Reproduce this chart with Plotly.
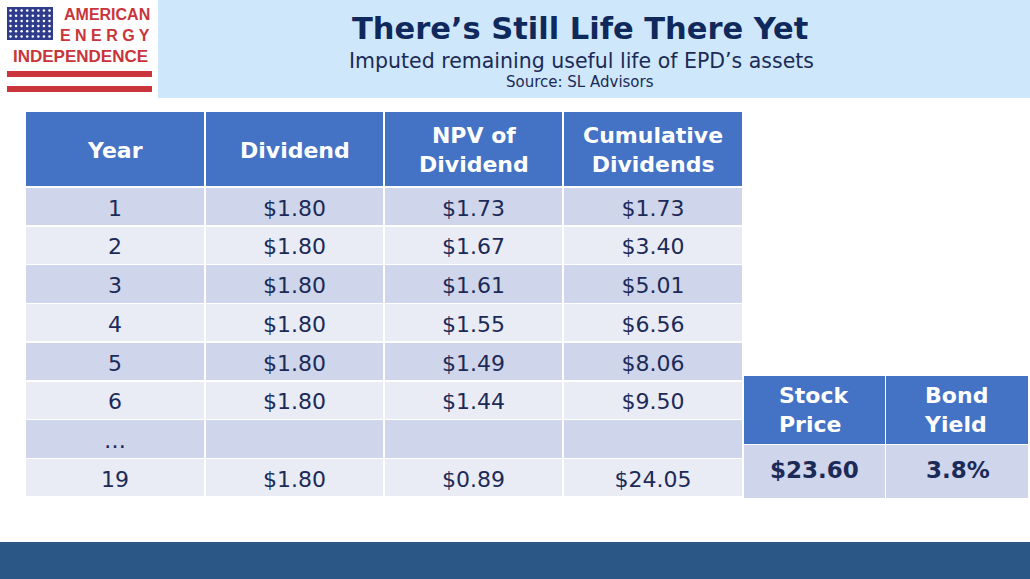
import plotly.graph_objects as go
import numpy as np

W, H = 1030, 579

# ---- data ----
years = ["1", "2", "3", "4", "5", "6", "…", "19"]
dividend = [1.80, 1.80, 1.80, 1.80, 1.80, 1.80, None, 1.80]
npv_dividend = [1.73, 1.67, 1.61, 1.55, 1.49, 1.44, None, 0.89]
cumulative_dividends = [1.73, 3.40, 5.01, 6.56, 8.06, 9.50, None, 24.05]
headers = ["Year", "Dividend", "NPV of<br>Dividend", "Cumulative<br>Dividends"]

side_headers = ["Stock<br>Price", "Bond<br>Yield"]
stock_price = 23.60
bond_yield = 3.8

# ---- styling ----
HEAD = "#4472c4"
DARK_ROW = "#cfd5ea"
LIGHT_ROW = "#e9ebf5"
NAVY = "#1b2a57"
TITLE_NAVY = "#10295c"
BANNER = "#cfe7fa"
RED = "#c9353a"
BAND = "#2b5786"
CLEAR = "rgba(0,0,0,0)"

MAIN_X0, MAIN_X1, MAIN_TOP = 25, 743, 111
MAIN_COLW = [180, 179, 179, 180]
HEAD_H, ROW_H = 76, 38.75
TEXT_SHIFT = 4
SIDE_X0, SIDE_X1, SIDE_TOP = 743, 1030, 375
SIDE_COLW = [143, 144]
SIDE_HEAD_H, SIDE_ROW_H = 68, 54


def money(v):
    return "" if v is None else f"${v:.2f}"


def px(x):
    return x / W


def py(y):
    return 1 - y / H


def col_centers(x0, widths):
    edges = np.concatenate([[x0], x0 + np.cumsum(widths)])
    return (edges[:-1] + edges[1:]) / 2


row_colors = [DARK_ROW if i % 2 == 0 else LIGHT_ROW for i in range(len(years))]
body_values = [years,
               [money(v) for v in dividend],
               [money(v) for v in npv_dividend],
               [money(v) for v in cumulative_dividends]]

fig = go.Figure()

# grid / fills of the main table
fig.add_trace(go.Table(
    domain=dict(x=[px(MAIN_X0), px(MAIN_X1)], y=[py(505), py(MAIN_TOP)]),
    columnwidth=MAIN_COLW,
    header=dict(values=[""] * len(headers), fill_color=HEAD,
                line=dict(color="white", width=1.5), height=HEAD_H),
    cells=dict(values=[[""] * len(years)] * 4, fill_color=[row_colors] * 4,
               line=dict(color="white", width=1.5), height=ROW_H),
))

# text layer of the main table (transparent fills, nudged down to centre text)
fig.add_trace(go.Table(
    domain=dict(x=[px(MAIN_X0), px(MAIN_X1)], y=[py(515), py(MAIN_TOP)]),
    columnwidth=MAIN_COLW,
    header=dict(values=[""] * len(headers), fill_color=CLEAR,
                line=dict(color=CLEAR, width=0), height=HEAD_H + TEXT_SHIFT),
    cells=dict(values=body_values, fill_color=CLEAR, line=dict(color=CLEAR, width=0),
               align="center", height=ROW_H,
               font=dict(family="DejaVu Sans", size=22, color=NAVY)),
))

fig.add_trace(go.Table(
    domain=dict(x=[px(SIDE_X0), px(SIDE_X1)], y=[py(505), py(SIDE_TOP)]),
    columnwidth=SIDE_COLW,
    header=dict(
        values=side_headers,
        fill_color=HEAD,
        line=dict(color="white", width=1.5),
        align="center",
        height=SIDE_HEAD_H,
        font=dict(family="DejaVu Sans", size=22, color="white", weight="bold"),
    ),
    cells=dict(values=[[""], [""]], fill_color=DARK_ROW,
               line=dict(color="white", width=1.5), height=SIDE_ROW_H),
))

shapes = [
    dict(type="rect", xref="paper", yref="paper", x0=px(158), x1=1, y0=py(98), y1=1,
         fillcolor=BANNER, line=dict(width=0), layer="below"),
    dict(type="rect", xref="paper", yref="paper", x0=0, x1=1, y0=0, y1=py(542),
         fillcolor=BAND, line=dict(width=0), layer="below"),
    dict(type="rect", xref="paper", yref="paper", x0=px(7), x1=px(53), y0=py(40), y1=py(7),
         fillcolor="#2f3c8c", line=dict(width=0), layer="below"),
    dict(type="rect", xref="paper", yref="paper", x0=px(7), x1=px(152), y0=py(77), y1=py(71),
         fillcolor=RED, line=dict(width=0)),
    dict(type="rect", xref="paper", yref="paper", x0=px(7), x1=px(152), y0=py(92), y1=py(86),
         fillcolor=RED, line=dict(width=0)),
]

# stars on the flag (decorative)
sx, sy = np.meshgrid(np.linspace(10.5, 49.5, 8), np.linspace(10.5, 36.5, 6))
fig.add_trace(go.Scatter(
    x=sx.ravel(), y=sy.ravel(), mode="markers", xaxis="x", yaxis="y",
    marker=dict(size=2.5, color="white"), hoverinfo="skip", showlegend=False,
))

annotations = [
    dict(text="There’s Still Life There Yet", x=px(580), y=py(28), xref="paper", yref="paper",
         showarrow=False, xanchor="center", yanchor="middle",
         font=dict(family="DejaVu Sans", size=30.5, color=TITLE_NAVY, weight="bold")),
    dict(text="Imputed remaining useful life of EPD’s assets", x=px(581), y=py(61),
         xref="paper", yref="paper", showarrow=False, xanchor="center", yanchor="middle",
         font=dict(family="DejaVu Sans", size=20.5, color=NAVY)),
    dict(text="Source: SL Advisors", x=px(580), y=py(82), xref="paper", yref="paper",
         showarrow=False, xanchor="center", yanchor="middle",
         font=dict(family="DejaVu Sans", size=15, color=NAVY)),
    dict(text="AMERICAN", x=px(152), y=py(15), xref="paper", yref="paper", showarrow=False,
         xanchor="right", yanchor="middle",
         font=dict(family="Liberation Sans", size=16, color=RED, weight="bold")),
    dict(text="E N E R G Y", x=px(152), y=py(35), xref="paper", yref="paper", showarrow=False,
         xanchor="right", yanchor="middle",
         font=dict(family="Liberation Sans", size=16, color=RED, weight="bold")),
    dict(text="INDEPENDENCE", x=px(80), y=py(56), xref="paper", yref="paper", showarrow=False,
         xanchor="center", yanchor="middle",
         font=dict(family="Liberation Sans", size=17, color=RED, weight="bold")),
]

# main table header labels, vertically centred in the header row
for cx, label in zip(col_centers(MAIN_X0, MAIN_COLW), headers):
    annotations.append(dict(
        text=label, x=px(cx), y=py(MAIN_TOP + HEAD_H / 2 + 1), xref="paper", yref="paper",
        showarrow=False, xanchor="center", yanchor="middle",
        font=dict(family="DejaVu Sans", size=22, color="white", weight="bold")))

# side table values, vertically centred in the value row
for cx, val in zip(col_centers(SIDE_X0, SIDE_COLW),
                   [f"${stock_price:.2f}", f"{bond_yield:.1f}%"]):
    annotations.append(dict(
        text=val, x=px(cx), y=py(SIDE_TOP + SIDE_HEAD_H + SIDE_ROW_H / 2),
        xref="paper", yref="paper", showarrow=False, xanchor="center", yanchor="middle",
        font=dict(family="DejaVu Sans", size=23, color=NAVY, weight="bold")))

fig.update_layout(
    width=W, height=H,
    margin=dict(l=0, r=0, t=0, b=0),
    paper_bgcolor="white", plot_bgcolor="rgba(0,0,0,0)",
    shapes=shapes, annotations=annotations, showlegend=False,
    xaxis=dict(range=[0, W], visible=False, domain=[0, 1], fixedrange=True),
    yaxis=dict(range=[H, 0], visible=False, domain=[0, 1], fixedrange=True),
)

fig.write_html(
    "out.html",
    config={"displayModeBar": False},
    post_script="document.body.style.margin='0';document.body.style.overflow='hidden';",
)
